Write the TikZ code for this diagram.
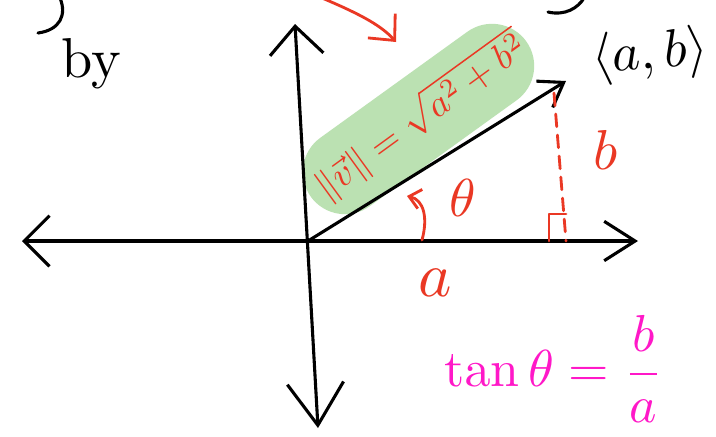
\documentclass[tikz,border=0pt]{standalone}
\usepackage{amsmath,amssymb}
\usepackage{tikz}
\usetikzlibrary{arrows.meta,positioning,calc}
\definecolor{rougeEncre}{RGB}{234,56,36}
\definecolor{roseEncre}{RGB}{255,24,200}
\definecolor{vertSurligne}{RGB}{187,225,178}

\begin{document}
\begin{tikzpicture}[x=0.025cm,y=-0.025cm,
  trait/.style={draw=black,line width=2.2pt,line cap=round,line join=round},
  encre/.style={draw=rougeEncre,line width=2pt,line cap=round,line join=round},
  noir/.style={text=black,inner sep=0pt},
  rouge/.style={text=rougeEncre,inner sep=0pt},
  rose/.style={text=roseEncre,inner sep=0pt}]

  \clip (0,0) rectangle (716,436);
  \fill[white] (0,0) rectangle (716,436);

  % repères
  \coordinate (xg) at (22,241);
  \coordinate (xd) at (638,241);
  \coordinate (yh) at (295,24);
  \coordinate (yb) at (318,428);
  \coordinate (O) at (308,241);
  \coordinate (V) at (566,81);
  \coordinate (H) at (566,241);

  % surlignage
  \draw[vertSurligne,line width=60pt,line cap=round] (345,172) -- (492,66);

  % axes
  \draw[trait,{Straight Barb[length=18pt,width=36pt]}-{Straight Barb[length=22pt,width=28pt]}] (xg) -- (xd);
  \draw[trait,{Straight Barb[length=20pt,width=38pt]}-{Straight Barb[length=30pt,width=40pt]}] (yh) -- (yb);
  \draw[trait,-{Straight Barb[length=16pt,width=22pt]}] (O) -- (V);

  % hauteur b
  \draw[encre,dashed,dash pattern=on 9pt off 6pt] ($(V)+(-12,12)$) -- (H);
  \draw[encre] ($(H)+(-17,0)$) -- ++(0,-27) -- ++(17,0);

  % bouts coupés
  \draw[trait] (60,-2) .. controls (67,15) and (60,30) .. (38,33);
  \draw[trait] (548,12) .. controls (565,16) and (578,8) .. (584,-2);

  % flèche rouge du haut
  \draw[encre,-{Straight Barb[length=14pt,width=26pt]}] (322,-2) .. controls (355,12) and (380,24) .. (396,42);

  % angle
  \coordinate (thetaBas) at (422,240);
  \draw[encre,-{Straight Barb[length=8pt,width=14pt]}] (thetaBas) .. controls (428,218) and (424,200) .. (407,196);
  \node[rouge,scale=3.8] (theta) at (463,198) {$\theta$};

  % textes
  \node[noir,scale=4] (par) at (91,64) {by};
  \node[noir,scale=3.8,rotate=5] (vecteur) at (650,55) {$\langle a,b\rangle$};
  \node[rouge,scale=4] (cote) at (606,150) {$b$};
  \node[rouge,scale=4.5] (base) at (435,283) {$a$};
  \node[rouge,scale=2.65,rotate=36] (norme) at (421,116) {$\|\vec{v}\|=\sqrt{a^2+b^2}$};
  \node[rose,scale=3.7] (tangente) at (554,369) {$\displaystyle\tan\theta=\frac{b}{a}$};
\end{tikzpicture}
\end{document}
